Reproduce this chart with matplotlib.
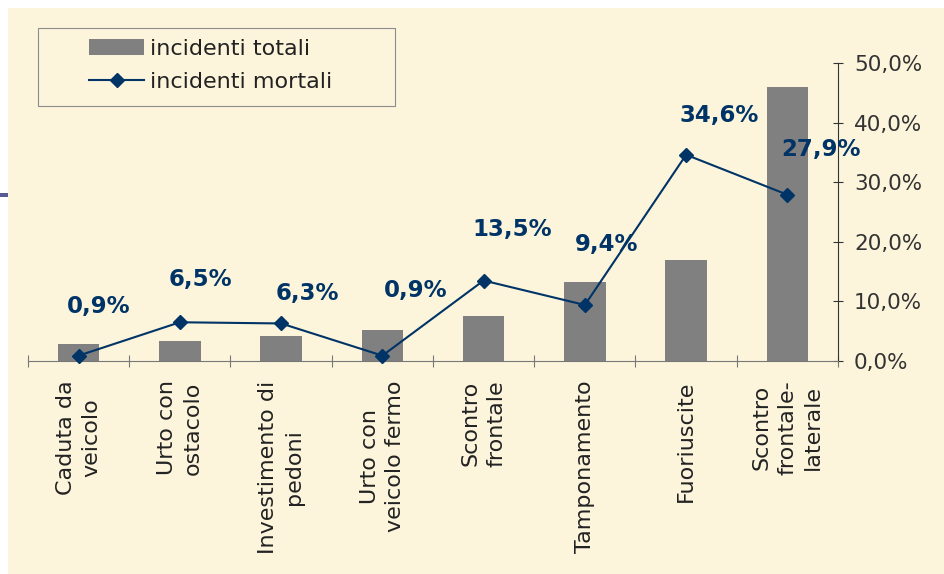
#!/usr/bin/env python3

import matplotlib
matplotlib.use("Agg")
import matplotlib.pyplot as plt
from matplotlib.patches import Rectangle
import numpy as np

categories = ["Caduta da\nveicolo", "Urto con\nostacolo", "Investimento di\npedoni",
              "Urto con\nveicolo fermo", "Scontro\nfrontale", "Tamponamento",
              "Fuoriuscite", "Scontro\nfrontale-\nlaterale"]
incidenti_totali = [2.9, 3.4, 4.25, 5.25, 7.55, 13.3, 17.0, 46.0]
incidenti_mortali = [0.9, 6.5, 6.3, 0.9, 13.5, 9.4, 34.6, 27.9]
y_ticks = [0, 10, 20, 30, 40, 50]

# label offsets (pixels) from each marker, as placed in the original
label_offsets = [(20, 49), (21, 43), (26, 30), (33, 65), (29, 51), (22, 60), (33, 39), (34, 45)]

navy = "#003366"
W, H = 945, 574

fig = plt.figure(figsize=(W / 100, H / 100), dpi=100)
fig.patch.set_facecolor("white")

# slide background
fig.add_artist(Rectangle((8 / W, 0), 1 - 8 / W, 1 - 8 / H, transform=fig.transFigure,
                         facecolor="#FCF5DC", edgecolor="none", zorder=-2))
fig.add_artist(Rectangle((0, 1 - 197 / H), 8 / W, 4 / H, transform=fig.transFigure,
                         facecolor="#5A5A96", edgecolor="none", zorder=-1))

ax = fig.add_axes([28 / W, 1 - 361 / H, 810 / W, 298 / H])
ax.set_facecolor("none")

x = np.arange(len(categories))
bars = ax.bar(x, incidenti_totali, width=0.41, color="#808080", zorder=2, label="incidenti totali")
line, = ax.plot(x, incidenti_mortali, color=navy, lw=1.5, marker="D", ms=7,
                mec=navy, mfc=navy, zorder=3, clip_on=False, label="incidenti mortali")

for xi, v, (dx, dy) in zip(x, incidenti_mortali, label_offsets):
    ax.annotate("{:.1f}%".format(v).replace(".", ","), (xi, v), xytext=(dx, dy),
                textcoords="offset pixels", ha="center", va="center",
                fontsize=16.5, fontweight="bold", color=navy, zorder=4)

ax.set_xlim(-0.5, len(categories) - 0.5)
ax.set_ylim(0, 50)

ax.spines["left"].set_visible(False)
ax.spines["top"].set_visible(False)
ax.spines["right"].set_color("#333333")
ax.spines["bottom"].set_color("#777777")

ax.yaxis.tick_right()
ax.set_yticks(y_ticks)
ax.set_yticklabels(["{:.1f}%".format(v).replace(".", ",") for v in y_ticks])
ax.tick_params(axis="y", direction="inout", length=7, width=0.8, color="#333333",
               labelsize=15.5, labelcolor="#333333", pad=8)

ax.set_xticks(x)
ax.set_xticklabels(categories, rotation=90, multialignment="center", linespacing=1.35)
ax.set_xticks(np.arange(-0.5, len(categories)), minor=True)
ax.tick_params(axis="x", which="major", length=0, labelsize=16, labelcolor="#222222", pad=14)
ax.tick_params(axis="x", which="minor", direction="inout", length=8, width=0.8, color="#777777")

# legend box
fig.add_artist(Rectangle((38 / W, 1 - 106 / H), 357 / W, 78 / H, transform=fig.transFigure,
                         facecolor="none", edgecolor="#8c8c8c", lw=0.8, zorder=5))
legend = ax.legend(handles=[bars, line], loc="center", bbox_to_anchor=(211 / W, 1 - 65.5 / H),
                   bbox_transform=fig.transFigure, frameon=False, fontsize=16, numpoints=1,
                   handlelength=2.45, handletextpad=0.3, labelspacing=0.6)
for t in legend.get_texts():
    t.set_color("#222222")

fig.savefig("out.png", dpi=100)
